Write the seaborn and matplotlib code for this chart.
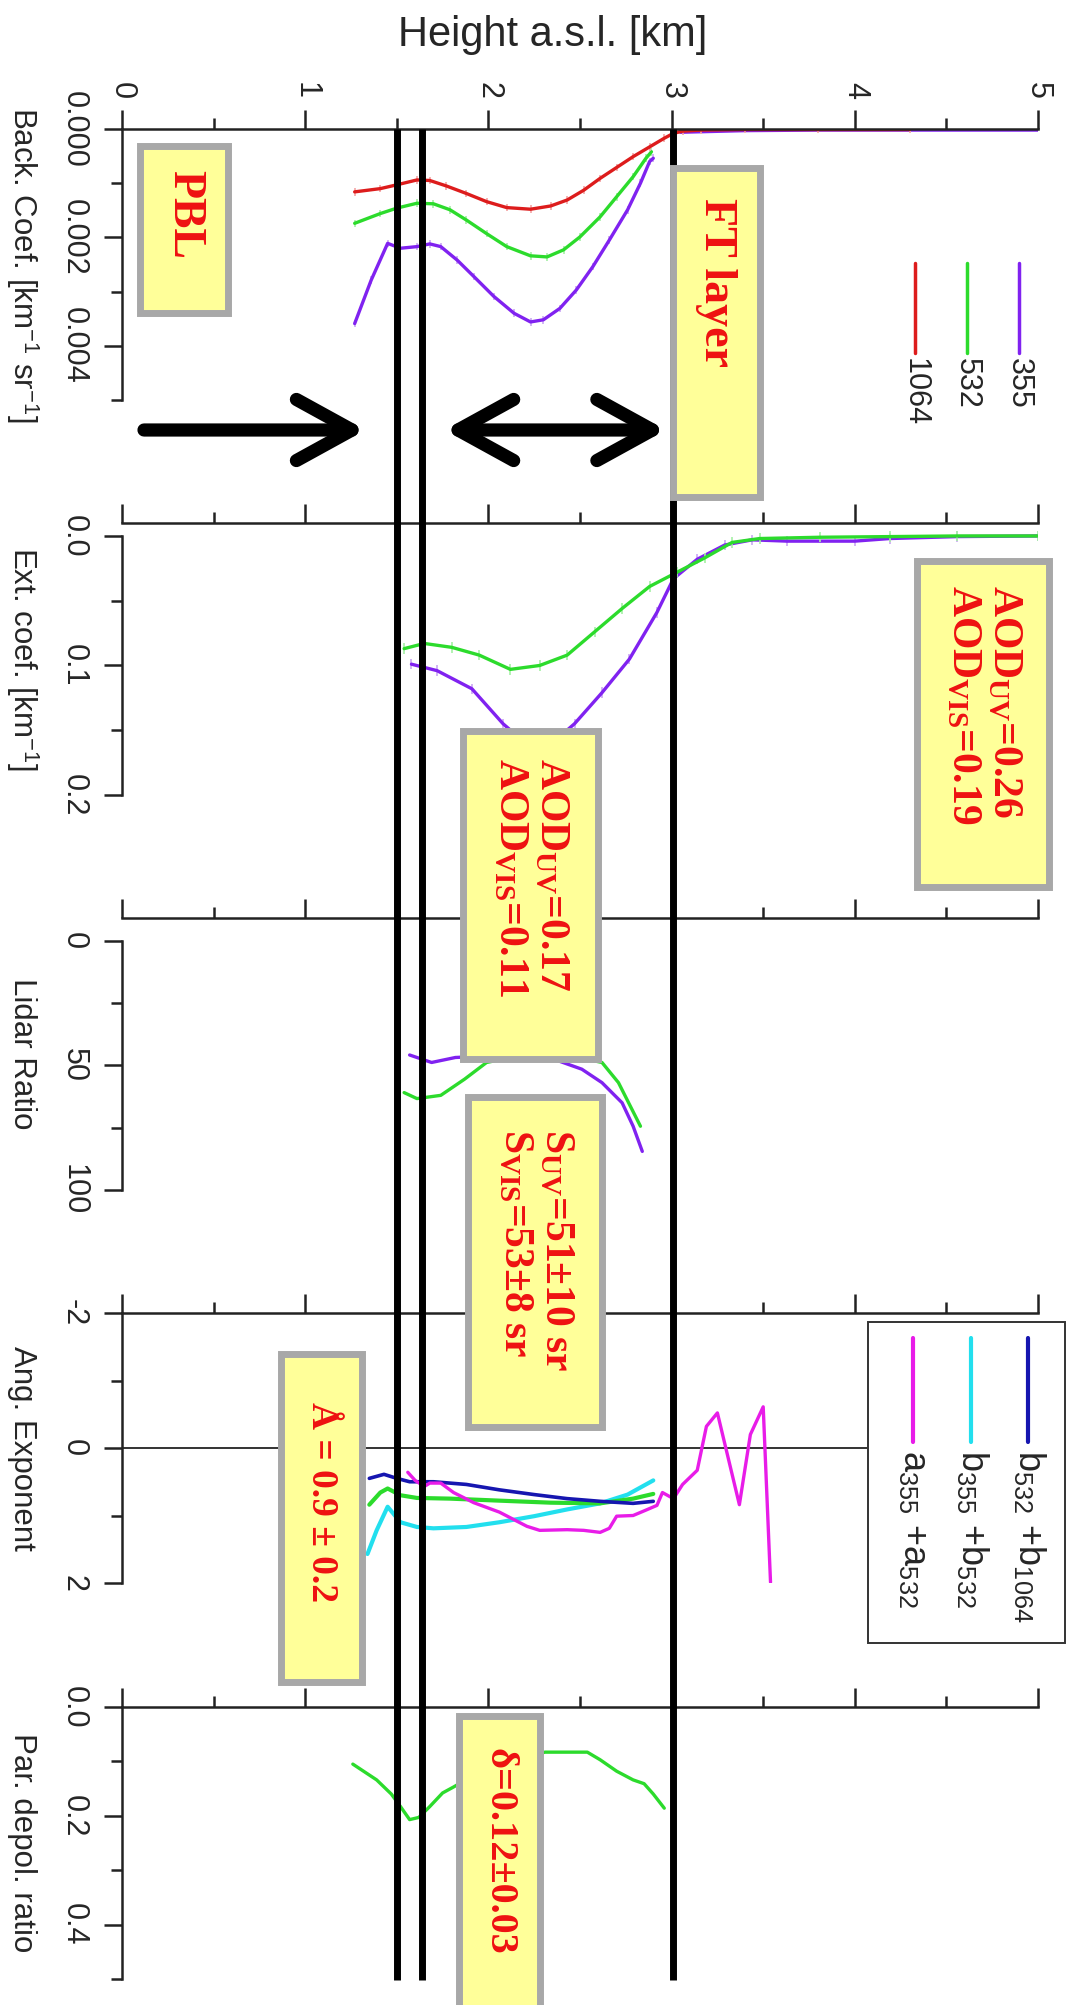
import numpy as np
import matplotlib
matplotlib.use('Agg')
import matplotlib.pyplot as plt
import seaborn as sns
from matplotlib.patches import Rectangle

# ---- data (height in km a.s.l.) ----
# backscatter coefficient [km-1 sr-1]
bsc_h_355 = [1.27, 1.36, 1.45, 1.52, 1.61, 1.68, 1.74, 1.83, 1.92, 2.03, 2.14, 2.23, 2.30, 2.39, 2.48, 2.57, 2.66, 2.76, 2.83, 2.88, 2.90]
bsc_355 = [3.59e-3, 2.79e-3, 2.11e-3, 2.20e-3, 2.17e-3, 2.12e-3, 2.17e-3, 2.42e-3, 2.72e-3, 3.09e-3, 3.40e-3,
           3.56e-3, 3.52e-3, 3.31e-3, 2.97e-3, 2.54e-3, 2.05e-3, 1.49e-3, 1.00e-3, 0.60e-3, 0.54e-3]
bsc_h_355_ft = [3.05, 3.4, 3.8, 4.2, 4.6, 5.0]
bsc_355_ft = [0.06e-3, 0.03e-3, 0.02e-3, 0.02e-3, 0.02e-3, 0.02e-3]
bsc_h_532 = [1.27, 1.41, 1.50, 1.61, 1.70, 1.79, 1.88, 1.99, 2.10, 2.23, 2.32, 2.41, 2.50, 2.61, 2.70, 2.79, 2.86, 2.89]
bsc_532 = [1.74e-3, 1.56e-3, 1.46e-3, 1.37e-3, 1.38e-3, 1.49e-3, 1.68e-3, 1.93e-3, 2.17e-3, 2.34e-3, 2.36e-3,
           2.23e-3, 1.99e-3, 1.62e-3, 1.25e-3, 0.88e-3, 0.54e-3, 0.42e-3]
bsc_h_1064 = [1.27, 1.41, 1.50, 1.61, 1.68, 1.77, 1.88, 1.99, 2.10, 2.23, 2.34, 2.43, 2.52, 2.61, 2.70, 2.79,
              2.88, 2.96, 3.01, 3.06, 3.16, 3.4, 3.8, 4.3]
bsc_1064 = [1.16e-3, 1.10e-3, 1.03e-3, 0.94e-3, 0.95e-3, 1.05e-3, 1.19e-3, 1.34e-3, 1.45e-3, 1.48e-3, 1.42e-3,
            1.31e-3, 1.13e-3, 0.91e-3, 0.71e-3, 0.51e-3, 0.33e-3, 0.17e-3, 0.08e-3, 0.04e-3, 0.02e-3,
            0.01e-3, 0.01e-3, 0.01e-3]
bsc_names = ['355', '532', '1064']

# extinction coefficient [km-1]
ext_h_355 = [1.58, 1.72, 1.91, 2.08, 2.17, 2.28, 2.38, 2.47, 2.62, 2.77, 2.92, 3.01, 3.14, 3.29, 3.44, 3.63, 4.0, 4.19, 4.56, 5.0]
ext_355 = [0.099, 0.104, 0.118, 0.145, 0.156, 0.159, 0.156, 0.145, 0.121, 0.095, 0.059, 0.033, 0.018, 0.007,
           0.003, 0.004, 0.004, 0.002, 0.0005, 0.0]
ext_h_532 = [1.54, 1.65, 1.80, 1.95, 2.12, 2.28, 2.43, 2.58, 2.73, 2.88, 3.03, 3.18, 3.33, 3.48, 3.81, 4.19, 4.56, 5.0]
ext_532 = [0.087, 0.083, 0.086, 0.092, 0.103, 0.100, 0.092, 0.074, 0.056, 0.039, 0.028, 0.017, 0.005, 0.002,
           0.001, 0.0005, 0.0, 0.0]

# lidar ratio [sr]
lr_h_355 = [1.57, 1.69, 1.82, 2.02, 2.25, 2.38, 2.51, 2.62, 2.73, 2.79, 2.84]
lr_355 = [45.8, 48.8, 46.8, 46.1, 46.8, 48.1, 51.5, 56.9, 65.0, 74.4, 84.5]
lr_h_532 = [1.54, 1.61, 1.74, 1.87, 1.99, 2.17, 2.40, 2.62, 2.71, 2.83]
lr_532 = [60.9, 63.3, 62.0, 55.5, 48.8, 46.1, 45.4, 48.8, 56.9, 74.4]

# Angstrom exponents
ae_h_b532 = [1.35, 1.43, 1.50, 1.57, 1.70, 1.88, 2.06, 2.25, 2.43, 2.61, 2.79, 2.90]
ae_b532 = [0.45, 0.39, 0.45, 0.50, 0.50, 0.54, 0.62, 0.69, 0.75, 0.79, 0.82, 0.79]
ae_h_b355 = [1.34, 1.39, 1.45, 1.52, 1.61, 1.70, 1.88, 2.06, 2.25, 2.43, 2.61, 2.76, 2.90]
ae_b355 = [1.57, 1.22, 0.87, 1.10, 1.17, 1.19, 1.17, 1.10, 1.01, 0.91, 0.82, 0.69, 0.48]
ae_h_green = [1.35, 1.41, 1.45, 1.52, 1.61, 1.79, 2.06, 2.34, 2.61, 2.79, 2.90]
ae_green = [0.84, 0.66, 0.60, 0.70, 0.74, 0.75, 0.78, 0.81, 0.82, 0.75, 0.68]
ae_h_a = [1.56, 1.60, 1.65, 1.68, 1.74, 1.81, 1.92, 2.06, 2.21, 2.28, 2.43, 2.52, 2.61, 2.66, 2.70, 2.79,
          2.86, 2.92, 2.95, 2.97, 3.01, 3.06, 3.14, 3.19, 3.25, 3.37, 3.43, 3.50, 3.54]
ae_a = [0.36, 0.48, 0.57, 0.52, 0.52, 0.66, 0.81, 0.95, 1.16, 1.22, 1.21, 1.22, 1.25, 1.19, 1.01, 1.00,
        0.92, 0.85, 0.66, 0.69, 0.75, 0.54, 0.33, -0.32, -0.52, 0.84, -0.20, -0.61, 1.99]
ae_names = [r'b$_{\mathsf{532}}$ +b$_{\mathsf{1064}}$', r'b$_{\mathsf{355}}$ +b$_{\mathsf{532}}$',
            r'a$_{\mathsf{355}}$ +a$_{\mathsf{532}}$']

# particle depolarization ratio at 532
dep_h = [1.26, 1.39, 1.47, 1.52, 1.57, 1.62, 1.68, 1.75, 1.81, 2.00, 2.20, 2.31, 2.43, 2.54, 2.61, 2.70, 2.79, 2.85, 2.90, 2.96]
dep = [0.105, 0.134, 0.160, 0.183, 0.207, 0.203, 0.183, 0.158, 0.147, 0.11, 0.09, 0.083, 0.083, 0.083,
       0.097, 0.118, 0.134, 0.141, 0.160, 0.186]

# layer limits (PBL top, FT layer base, FT layer top)
layer_h = [1.50, 1.64, 3.01]

# ---- style ----
sns.set_style('ticks')
plt.rcParams['font.family'] = ['Liberation Sans', 'DejaVu Sans']
plt.rcParams['mathtext.fontset'] = 'custom'
plt.rcParams['mathtext.rm'] = 'Liberation Serif:bold'
plt.rcParams['mathtext.bf'] = 'Liberation Serif:bold'
plt.rcParams['mathtext.sf'] = 'Liberation Sans'
plt.rcParams['mathtext.it'] = 'Liberation Serif:italic:bold'

c355, c532, c1064 = '#8022F0', '#2CDB2C', '#DD1C1C'
e355, e532, e1064 = '#CBA8F4', '#A6F0A6', '#F4A6A6'
cblue, ccyan, cmag = '#1616B0', '#22DFEE', '#E81CE8'
axcol = '#222222'
red_txt = '#EE1111'

W, H = 1072, 2005
X0, KM = 122, 183.2   # px of 0 km, px per km

fig = plt.figure(figsize=(W / 100, H / 100), dpi=100)


def panel(top, bottom):
    return fig.add_axes([X0 / W, 1 - bottom / H, 5 * KM / W, (bottom - top) / H])


def style(ax, ylim, major, labels, minor, ylabel, first=False):
    ax.set_xlim(0, 5)
    ax.set_ylim(ylim[1], ylim[0])
    ax.patch.set_alpha(0)
    ax.grid(False)
    ax.spines['right'].set_visible(False)
    ax.spines['bottom'].set_visible(False)
    for s in ['top', 'left']:
        ax.spines[s].set_linewidth(1.8)
        ax.spines[s].set_color(axcol)
    ax.spines['left'].set_bounds(major[0], max(major + minor))
    ax.xaxis.set_ticks_position('top')
    ax.set_xticks(range(6))
    ax.set_xticks(np.arange(0.5, 5, 1), minor=True)
    ax.tick_params(axis='x', which='major', length=13.5, width=1.8, color=axcol, direction='out',
                   labeltop=first, labelbottom=False, labelrotation=-90, labelsize=22, pad=8)
    ax.tick_params(axis='x', which='minor', length=8, width=1.8, color=axcol, direction='out')
    ax.set_yticks(major)
    ax.set_yticklabels(labels)
    ax.set_yticks(minor, minor=True)
    ax.tick_params(axis='y', which='major', length=13, width=1.8, color=axcol, direction='out',
                   labelrotation=-90, labelsize=22, pad=11)
    ax.tick_params(axis='y', which='minor', length=8, width=1.8, color=axcol, direction='out')
    for lab in ax.get_yticklabels():
        lab.set_va('center')
    ax.set_xlabel('')
    ax.set_ylabel(ylabel, rotation=-90, fontsize=22.5, va='center', ha='center')
    ax.yaxis.set_label_coords(-0.109, 0.5)


# ---- panel 1: backscatter ----
ax1 = panel(129, 400)
for h, v, c, e in [(bsc_h_355, bsc_355, c355, e355), (bsc_h_532, bsc_532, c532, e532)]:
    ax1.errorbar(h, v, yerr=0.00007, fmt='none', ecolor=e, elinewidth=1.2)
    sns.lineplot(x=h, y=v, color=c, lw=2.4, ax=ax1)
sns.lineplot(x=bsc_h_355_ft, y=bsc_355_ft, color=c355, lw=2.4, ax=ax1)
ax1.errorbar(bsc_h_1064, bsc_1064, yerr=0.00007, fmt='none', ecolor=e1064, elinewidth=1.2)
sns.lineplot(x=bsc_h_1064, y=bsc_1064, color=c1064, lw=2.4, ax=ax1)
style(ax1, (0, 0.005), [0, 0.002, 0.004], ['0.000', '0.002', '0.004'], [0.001, 0.003, 0.005],
      r'Back. Coef. [km$^{\mathsf{-1}}$ sr$^{\mathsf{-1}}$]', first=True)
ax1.set_xlabel('Height a.s.l. [km]', fontsize=30)
ax1.xaxis.set_label_position('top')
ax1.xaxis.set_label_coords(0.4705, 1.347)
ax1.xaxis.label.set_va('center')

# ---- panel 2: extinction ----
ax2 = panel(523, 795)
for h, v, c, e in [(ext_h_355, ext_355, c355, e355), (ext_h_532, ext_532, c532, e532)]:
    ax2.errorbar(h, v, yerr=0.004, fmt='none', ecolor=e, elinewidth=1.2)
    sns.lineplot(x=h, y=v, color=c, lw=2.4, ax=ax2)
style(ax2, (-0.01, 0.2), [0.0, 0.1, 0.2], ['0.0', '0.1', '0.2'], [0.05, 0.15],
      r'Ext. coef. [km$^{\mathsf{-1}}$]')

# ---- panel 3: lidar ratio ----
ax3 = panel(918, 1190)
sns.lineplot(x=lr_h_355, y=lr_355, color=c355, lw=2.4, ax=ax3)
sns.lineplot(x=lr_h_532, y=lr_532, color=c532, lw=2.4, ax=ax3)
style(ax3, (-9.2, 100), [0, 50, 100], ['0', '50', '100'], [25, 75], 'Lidar Ratio')

# ---- panel 4: Angstrom exponent ----
ax4 = panel(1313, 1583)
ax4.axhline(0, color='#333333', lw=1.4)
sns.lineplot(x=ae_h_b355, y=ae_b355, color=ccyan, lw=3, ax=ax4)
sns.lineplot(x=ae_h_green, y=ae_green, color=c532, lw=3, ax=ax4)
sns.lineplot(x=ae_h_b532, y=ae_b532, color=cblue, lw=2.6, ax=ax4)
sns.lineplot(x=ae_h_a, y=ae_a, color=cmag, lw=2.4, ax=ax4)
style(ax4, (-2, 2), [-2, 0, 2], ['-2', '0', '2'], [-1, 1], 'Ang. Exponent')

# ---- panel 5: depolarization ----
ax5 = panel(1707, 1979)
sns.lineplot(x=dep_h, y=dep, color=c532, lw=2.4, ax=ax5)
style(ax5, (0, 0.5), [0.0, 0.2, 0.4], ['0.0', '0.2', '0.4'], [0.1, 0.3, 0.5], 'Par. depol. ratio')

# ---- overlay: layer lines, arrows, text boxes, legends ----
ov = fig.add_axes([0, 0, 1, 1])
ov.set_xlim(-X0 / KM, (W - X0) / KM)
ov.set_ylim(H, 0)
ov.axis('off')
ov.patch.set_alpha(0)

ov.vlines(layer_h, 129, 1980, color='black', lw=5, zorder=2)

ov.annotate('', xy=(1.33, 430), xytext=(0.12, 430),
            arrowprops=dict(arrowstyle='->,head_length=1.0,head_width=0.55', lw=9.5, color='black',
                            mutation_scale=40, shrinkA=0, shrinkB=0))
ov.annotate('', xy=(2.97, 430), xytext=(1.76, 430),
            arrowprops=dict(arrowstyle='<->,head_length=1.0,head_width=0.55', lw=9.5, color='black',
                            mutation_scale=40, shrinkA=0, shrinkB=0))

inset_km, inset_px = 3.5 / KM, 3.5
boxes = [
    ('PBL', (0.08, 0.60), (142, 316), 214, 33),
    ('FT layer', (2.99, 3.50), (164, 500), 282, 33),
    ('AOD$_{\\mathrm{UV}}$=0.26\nAOD$_{\\mathrm{VIS}}$=0.19', (4.32, 5.08), (557, 890), 705, 30),
    ('AOD$_{\\mathrm{UV}}$=0.17\nAOD$_{\\mathrm{VIS}}$=0.11', (1.84, 2.62), (727, 1062), 877, 30),
    ('S$_{\\mathrm{UV}}$=51±10 sr\nS$_{\\mathrm{VIS}}$=53±8 sr', (1.87, 2.64), (1093, 1430), 1250, 30),
    ('Å = 0.9 ± 0.2', (0.85, 1.33), (1350, 1685), 1502, 27),
    ('δ=0.12±0.03', (1.82, 2.30), (1712, 2040), 1851, 29),
]
for txt, (xa, xb), (ya, yb), yc, fs in boxes:
    ov.add_patch(Rectangle((xa + inset_km, ya + inset_px), xb - xa - 2 * inset_km, yb - ya - 2 * inset_px,
                           facecolor='#FFFF99', edgecolor='#A8A8A8', lw=5, zorder=3))
    ov.text((xa + xb) / 2, yc, txt, rotation=-90, ha='center', va='center', multialignment='left',
            fontsize=fs, fontweight='bold', family='Liberation Serif', color=red_txt, zorder=4,
            linespacing=1.1)

# legend of backscatter panel
for name, col, xk in zip(bsc_names, [c355, c532, c1064], [4.896, 4.612, 4.329]):
    ov.plot([xk, xk], [263, 353], color=col, lw=2.5, zorder=4)
    ov.text(xk, 358, name, rotation=-90, rotation_mode='anchor', ha='left', va='center',
            fontsize=22, zorder=4)

# legend of Angstrom panel
ov.add_patch(Rectangle((4.07, 1322), 5.148 - 4.07, 1643 - 1322, facecolor='white',
                       edgecolor='#333333', lw=1.4, zorder=3))
for name, col, xk in zip(ae_names, [cblue, ccyan, cmag], [4.945, 4.634, 4.318]):
    ov.plot([xk, xk], [1338, 1442], color=col, lw=3, zorder=4)
    ov.text(xk, 1450, name, rotation=-90, rotation_mode='anchor', ha='left', va='center',
            fontsize=26, zorder=4)

fig.savefig('out.png', dpi=100)
